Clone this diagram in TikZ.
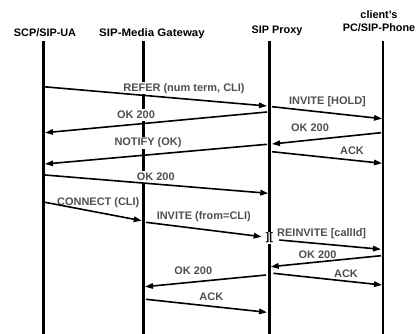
\documentclass[tikz,border=0pt]{standalone}
\usepackage{fontspec}
\setmainfont{Liberation Sans}
\usetikzlibrary{arrows.meta}
\definecolor{labelgray}{HTML}{505050}
\begin{document}
\begin{tikzpicture}[x=1bp,y=-1bp,
  life/.style={line width=2.6bp,black},
  msg/.style={line width=1.6bp,black,-{Triangle[length=8bp,width=5.5bp]}},
  lbl/.style={fill=white,inner sep=1bp,text=labelgray,text height=8bp,text depth=2bp,font=\bfseries\fontsize{11}{12}\selectfont},
  head/.style={inner sep=0pt,anchor=base,font=\bfseries\fontsize{10.9}{12}\selectfont}]
\useasboundingbox (0,0) rectangle (417,334);
% headers
\node[head] (hA) at (45,36) {SCP/SIP-UA};
\node[head] (hB) at (152,36.5) {\scalebox{1.06}[1]{SIP-Media Gateway}};
\node[head] (hC) at (277,33.5) {SIP Proxy};
\node[head] (hD1) at (379,18.3) {client's};
\node[head] (hD2) at (379,31.7) {PC/SIP-Phone};
% lifelines
\coordinate (aT) at (43.5,41); \coordinate (aB) at (43.5,334);
\coordinate (bT) at (143.5,41); \coordinate (bB) at (143.5,334);
\coordinate (cT) at (269.5,41); \coordinate (cB) at (269.5,334);
\coordinate (dT) at (383,41); \coordinate (dB) at (383,334);
\draw[life] (aT) -- (aB);
\draw[life] (bT) -- (bB);
\draw[life] (cT) -- (cB);
\draw[life] (dT) -- (dB);
% labels
\node[lbl] (l1) at (184,88) {REFER (num term, CLI)};
\node[lbl] (l2) at (327.5,101) {INVITE [HOLD]};
\node[lbl] (l3) at (136,115) {OK 200};
\node[lbl] (l4) at (310,128.5) {OK 200};
\node[lbl] (l5) at (148,142.5) {NOTIFY (OK)};
\node[lbl] (l6) at (352,151.5) {ACK};
\node[lbl] (l7) at (155.8,177) {OK 200};
\node[lbl] (l8) at (98.3,202) {CONNECT (CLI)};
\node[lbl] (l9) at (203.8,216) {INVITE (from=CLI)};
\node[lbl] (l11) at (321.7,233.5) {REINVITE [callId]};
\node[lbl] (l12) at (317.5,255) {OK 200};
\node[lbl] (l13) at (193.3,271) {OK 200};
\node[lbl] (l14) at (346,274) {ACK};
\node[lbl] (l15) at (211.3,297.5) {ACK};
% break marker on proxy lifeline
\node[fill=white,inner sep=0.8bp,text=black,font=\bfseries\fontsize{11}{12}\selectfont] (brk) at (269.3,238) {][};
% message endpoints
\coordinate (m1s) at (43.5,86.7);  \coordinate (m1e) at (267,106);
\coordinate (m2s) at (272,106.7);  \coordinate (m2e) at (382,118.7);
\coordinate (m3s) at (267,112);    \coordinate (m3e) at (45,132.7);
\coordinate (m4s) at (381,132.7);  \coordinate (m4e) at (272,144);
\coordinate (m5s) at (267,144.3);  \coordinate (m5e) at (45,164);
\coordinate (m6s) at (272,151.7);  \coordinate (m6e) at (382,163.3);
\coordinate (m7s) at (45,175);     \coordinate (m7e) at (268.3,193.3);
\coordinate (m8s) at (45,202.3);   \coordinate (m8e) at (141.7,220.7);
\coordinate (m9s) at (146,222.3);  \coordinate (m9e) at (261.7,236.7);
\coordinate (m11s) at (279.3,240); \coordinate (m11e) at (381,249.3);
\coordinate (m12s) at (381,255.7); \coordinate (m12e) at (270.7,266.7);
\coordinate (m13s) at (266,275);   \coordinate (m13e) at (145,286.7);
\coordinate (m14s) at (273.3,273.3); \coordinate (m14e) at (382,285);
\coordinate (m15s) at (146,299.3); \coordinate (m15e) at (267,312.3);
\foreach \i in {1,2,3,4,5,6,7,8,9,11,12,13,14,15}
  \draw[msg] (m\i s) -- (m\i e);
\end{tikzpicture}
\end{document}
